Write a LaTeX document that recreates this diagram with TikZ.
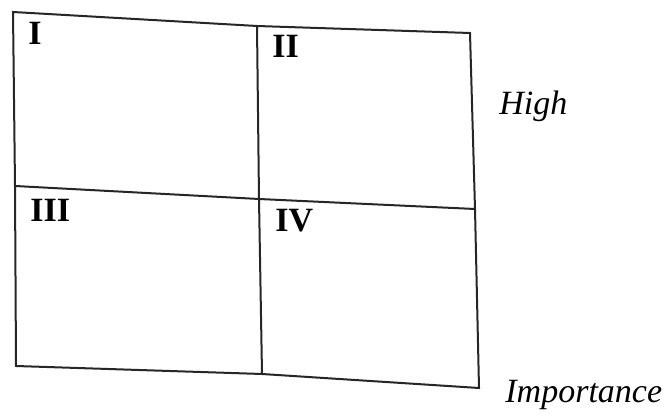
\documentclass[tikz,border=0pt]{standalone}
\usepackage{fontspec}
\setmainfont{Liberation Serif}
\usepackage{tikz}
\usetikzlibrary{positioning, calc}

\begin{document}
\begin{tikzpicture}[x=0.5pt, y=-0.5pt,
  edge/.style={line width=1pt, black!85},
  quad/.style={anchor=base west, inner sep=0pt, font=\fontsize{17}{20}\selectfont\bfseries},
  axis/.style={anchor=base west, inner sep=0pt, font=\fontsize{17}{20}\selectfont\itshape}
]
  \useasboundingbox (0,0) rectangle (664,416);
  % corners of the (slightly skewed) grid
  \coordinate (tl) at (13,12);   \coordinate (tm) at (257,26);  \coordinate (tr) at (470,33);
  \coordinate (ml) at (15,186);  \coordinate (mm) at (259,199); \coordinate (mr) at (475,209);
  \coordinate (bl) at (16,366);  \coordinate (bm) at (262,374); \coordinate (br) at (479,388);

  % outer frame and dividers
  \draw[edge] (tl) -- (tm) -- (tr) -- (mr) -- (br) -- (bm) -- (bl) -- (ml) -- cycle;
  \draw[edge] (ml) -- (mm) -- (mr);
  \draw[edge] (tm) -- (mm) -- (bm);

  % quadrant numbers
  \foreach \n/\lab/\x/\y in {qa/I/28/45, qb/II/272/58, qc/III/30/222, qd/IV/275/232}{
    \node[quad] (\n) at (\x,\y) {\lab};
  }

  % axis words
  \node[axis] (high) at (499,115) {High};
  \node[axis] (imp) at (505,403) {Importance};
\end{tikzpicture}
\end{document}
